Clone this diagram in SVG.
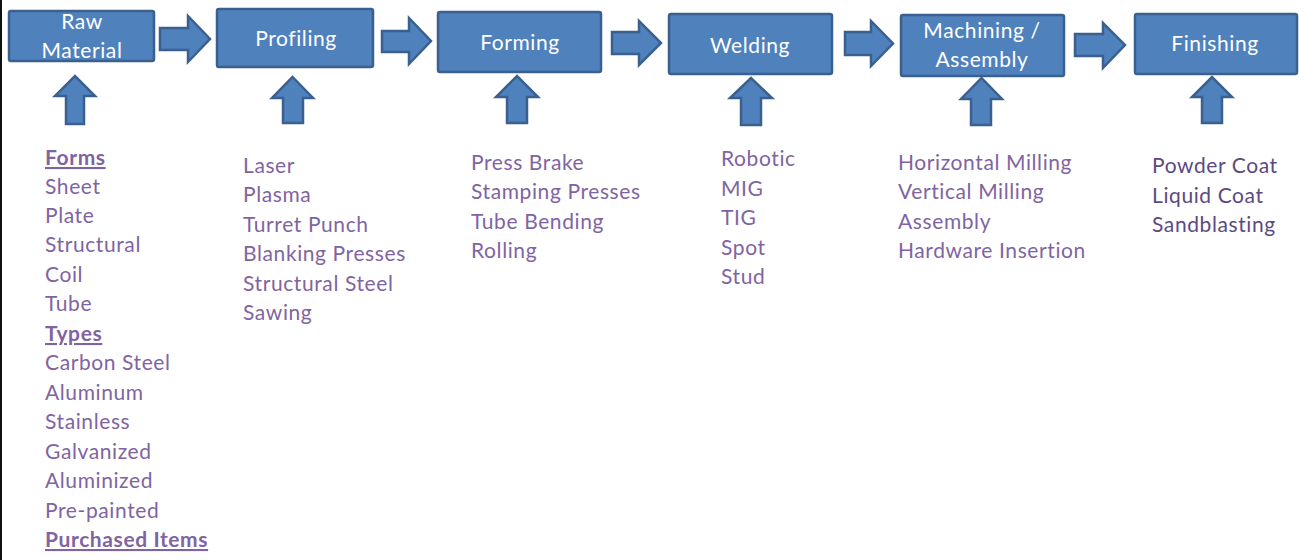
<svg xmlns="http://www.w3.org/2000/svg" width="1299" height="560" viewBox="0 0 1299 560">
<style>
.box{fill:#4f81bd;stroke:#3a6090;stroke-width:2.5}
.arr{fill:#4f81bd;stroke:#3a6090;stroke-width:2.5;stroke-linejoin:miter}
.lbl{font-family:Lato,"Open Sans",sans-serif;font-size:21px;letter-spacing:0.6px;fill:#ffffff;text-anchor:middle}
.lst{font-family:Lato,"Open Sans",sans-serif;font-size:21px;letter-spacing:0.6px;fill:#8064a2}
.dk{fill:#5c4a80}
.hd{font-weight:bold;text-decoration:underline}
</style>
<rect x="0" y="0" width="1299" height="560" fill="#ffffff"/>
<rect x="0" y="0" width="2" height="560" fill="#111111"/>
<g id="connectors">
<path class="arr" d="M160,28 H188 V16 L210,39 L188,62 V50 H160 Z"/>
<path class="arr" d="M382,31 H409 V18 L431,41 L409,64 V52 H382 Z"/>
<path class="arr" d="M612,32 H639 V21 L661,43 L639,65 V54 H612 Z"/>
<path class="arr" d="M845,32 H871 V21 L893,43.5 L871,66 V55 H845 Z"/>
<path class="arr" d="M1075,34 H1103 V23 L1125,45 L1103,68 V56 H1075 Z"/>
<path class="arr" d="M66,124 V96 H55 L75,76 L95,96 H84 V124 Z"/>
<path class="arr" d="M283,123 V98 H272 L292.5,77 L313,98 H303 V123 Z"/>
<path class="arr" d="M507,123 V97 H496 L517,76 L538,97 H527 V123 Z"/>
<path class="arr" d="M741,125 V98 H730 L751,78 L772,98 H761 V125 Z"/>
<path class="arr" d="M971,125 V99 H961 L981.5,78 L1002,99 H991 V125 Z"/>
<path class="arr" d="M1202,123 V97 H1192 L1212,77 L1232,97 H1222 V123 Z"/>
</g>
<g id="raw-material">
<rect class="box" x="9" y="11" width="145" height="50" rx="2"/>
<text class="lbl" x="82" y="29">Raw</text>
<text class="lbl" x="82" y="58">Material</text>
</g>
<g id="profiling">
<rect class="box" x="217" y="9" width="156" height="58" rx="2"/>
<text class="lbl" x="296" y="46">Profiling</text>
</g>
<g id="forming">
<rect class="box" x="438" y="12" width="163" height="60" rx="2"/>
<text class="lbl" x="520" y="50">Forming</text>
</g>
<g id="welding">
<rect class="box" x="669" y="14" width="163" height="60" rx="2"/>
<text class="lbl" x="750" y="53">Welding</text>
</g>
<g id="machining-assembly">
<rect class="box" x="901" y="15" width="163" height="61" rx="2"/>
<text class="lbl" x="982" y="38">Machining /</text>
<text class="lbl" x="982" y="67">Assembly</text>
</g>
<g id="finishing">
<rect class="box" x="1135" y="14" width="162" height="60" rx="2"/>
<text class="lbl" x="1215" y="51">Finishing</text>
</g>
<g id="raw-material-list" class="lst">
<text x="45" y="165" class="hd">Forms</text>
<text x="45" y="194">Sheet</text>
<text x="45" y="223">Plate</text>
<text x="45" y="252">Structural</text>
<text x="45" y="282">Coil</text>
<text x="45" y="311">Tube</text>
<text x="45" y="341" class="hd">Types</text>
<text x="45" y="370">Carbon Steel</text>
<text x="45" y="400">Aluminum</text>
<text x="45" y="429">Stainless</text>
<text x="45" y="459">Galvanized</text>
<text x="45" y="488">Aluminized</text>
<text x="45" y="518">Pre-painted</text>
<text x="45" y="547" class="hd">Purchased Items</text>
</g>
<g id="profiling-list" class="lst">
<text x="243" y="173">Laser</text>
<text x="243" y="202">Plasma</text>
<text x="243" y="232">Turret Punch</text>
<text x="243" y="261">Blanking Presses</text>
<text x="243" y="291">Structural Steel</text>
<text x="243" y="320">Sawing</text>
</g>
<g id="forming-list" class="lst">
<text x="471" y="170">Press Brake</text>
<text x="471" y="199">Stamping Presses</text>
<text x="471" y="229">Tube Bending</text>
<text x="471" y="258">Rolling</text>
</g>
<g id="welding-list" class="lst">
<text x="721" y="166">Robotic</text>
<text x="721" y="196">MIG</text>
<text x="721" y="225">TIG</text>
<text x="721" y="255">Spot</text>
<text x="721" y="284">Stud</text>
</g>
<g id="machining-list" class="lst">
<text x="898" y="170">Horizontal Milling</text>
<text x="898" y="199">Vertical Milling</text>
<text x="898" y="229">Assembly</text>
<text x="898" y="258">Hardware Insertion</text>
</g>
<g id="finishing-list" class="lst dk">
<text x="1152" y="173">Powder Coat</text>
<text x="1152" y="203">Liquid Coat</text>
<text x="1152" y="232">Sandblasting</text>
</g>
</svg>
